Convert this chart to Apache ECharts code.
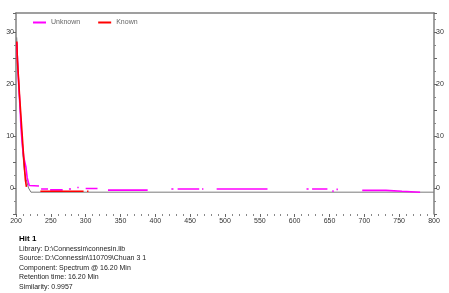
<!DOCTYPE html>
<html>
<head>
<meta charset="utf-8">
<script src="https://cdn.jsdelivr.net/npm/echarts@6/dist/echarts.min.js"></script>
<style>
html,body{margin:0;padding:0;background:#fff;}
#c{width:449px;height:293px;}
</style>
</head>
<body>
<div id="c"></div>
<script>
// X-axis ticks
var xTicks = [200, 250, 300, 350, 400, 450, 500, 550, 600, 650, 700, 750, 800];
var yTickLabels = [0, 10, 20, 30];

// Unknown (magenta) — null marks a gap where it is hidden
var unknownX = [201, 203, 204.3, 206, 207.2, 209, 211, 214.3, 216, 217.7, 219, 221, 233, 234,
  236, 246, 247, 249, 267, 268, 276, 279, 280, 288, 290, 291, 300, 317, 318, 332, 389, 390,
  423, 426, 427, 432, 463, 464, 467, 469, 470, 488, 561, 562, 617, 620, 621, 625, 647, 648,
  654, 656, 657, 660, 662, 663, 697, 731, 732, 754, 756, 780];
var unknownY = [28, 22, 19, 15, 11.5, 8.5, 6, 4, 2, 1.1, 0.5, 0.4, 0.4, null,
  -0.2, -0.2, null, -0.35, -0.35, null, -0.2, -0.2, null, 0.1, 0.1, null, -0.1, -0.1, null, -0.4, -0.4, null,
  -0.2, -0.2, null, -0.2, -0.2, null, -0.2, -0.2, null, -0.2, -0.2, null, -0.2, -0.2, null, -0.2, -0.2, null,
  -0.6, -0.6, null, -0.25, -0.25, null, -0.45, -0.45, -0.63, -0.63, -0.8, -0.8];

// Known (red)
var knownX = [201.2, 202, 203, 205, 207, 209, 210.5, 212, 213.5, 215, 216, 234, 235, 297, 298, 302, 304];
var knownY = [28.2, 24.5, 22.5, 18, 14, 10, 7, 4, 1.5, 0.2, null, null, -0.63, -0.63, null, -0.63, -0.63];

// Grey reference trace
var greyX = [201, 202.4, 205, 208, 209.5, 212, 214.5, 218, 221.5, 800];
var greyY = [29, 25, 17, 11, 7, 3.5, 1.7, 0, -0.8, -0.8];

var infoLines = [
  'Library: D:\\Connessin\\connesin.lib',
  'Source: D:\\Connessin\\110709\\Chuan 3 1',
  'Component: Spectrum @ 16.20 Min',
  'Retention time: 16.20 Min',
  'Similarity: 0.9957'
];

function pairs(xs, ys) {
  return xs.map(function (x, i) { return [x, ys[i] === null ? '-' : ys[i]]; });
}

var FONT = 'Liberation Sans';
var chart = echarts.init(document.getElementById('c'), null, {renderer: 'canvas'});

var titles = [{
  text: 'Hit 1', left: 14, top: 230,
  textStyle: {fontFamily: FONT, fontSize: 8, fontWeight: 'bold', color: '#000'}
}];
infoLines.forEach(function (t, i) {
  titles.push({
    text: t, left: 14, top: 240.5 + i * 9.4,
    textStyle: {fontFamily: FONT, fontSize: 7, fontWeight: 'normal', color: '#222'}
  });
});

var yLabelFmt = function (v) { return yTickLabels.indexOf(v) >= 0 ? String(v) : ''; };

var yCommon = {
  type: 'value', min: -5, max: 33.7, interval: 5,
  axisLine: {show: true, lineStyle: {color: '#808080', width: 1.5}},
  axisTick: {show: true, length: 3, lineStyle: {color: '#666'}},
  minorTick: {show: true, splitNumber: 2, length: 2, lineStyle: {color: '#888'}},
  splitLine: {show: false},
  axisLabel: {fontFamily: FONT, fontSize: 7, color: '#333', margin: 2, formatter: yLabelFmt, showMaxLabel: false}
};

chart.setOption({
  animation: false,
  backgroundColor: '#fff',
  title: titles,
  legend: {
    data: ['Unknown', 'Known'],
    left: 28, top: 14,
    itemWidth: 13, itemHeight: 2, itemGap: 18,
    icon: 'rect',
    textStyle: {fontFamily: FONT, fontSize: 7, color: '#666'}
  },
  grid: {left: 16, right: 15, top: 13, bottom: 79},
  xAxis: [{
    type: 'value', min: 200, max: 800, interval: 50, position: 'bottom',
    axisLine: {show: false, onZero: false},
    axisTick: {show: true, length: 3, lineStyle: {color: '#666'}},
    minorTick: {show: true, splitNumber: 5, length: 2, lineStyle: {color: '#888'}},
    splitLine: {show: false},
    axisLabel: {fontFamily: FONT, fontSize: 7, color: '#333', margin: 4}
  }, {
    type: 'value', min: 200, max: 800, position: 'top',
    axisLine: {show: true, onZero: false, lineStyle: {color: '#808080', width: 1.5}},
    axisTick: {show: false}, axisLabel: {show: false}, splitLine: {show: false}
  }],
  yAxis: [
    Object.assign({}, yCommon, {position: 'left'}),
    Object.assign({}, yCommon, {position: 'right'})
  ],
  series: [{
    name: 'grey', type: 'line', data: pairs(greyX, greyY),
    showSymbol: false, color: '#808080',
    lineStyle: {color: '#7a7a7a', width: 1}, z: 1
  }, {
    name: 'Unknown', type: 'line', data: pairs(unknownX, unknownY),
    showSymbol: false, connectNulls: false, color: '#ff00ff',
    lineStyle: {color: '#ff00ff', width: 1.6}, z: 2
  }, {
    name: 'Known', type: 'line', data: pairs(knownX, knownY),
    showSymbol: false, connectNulls: false, color: '#ff0000',
    lineStyle: {color: '#ff0000', width: 1.6}, z: 3
  }]
});
</script>
</body>
</html>
